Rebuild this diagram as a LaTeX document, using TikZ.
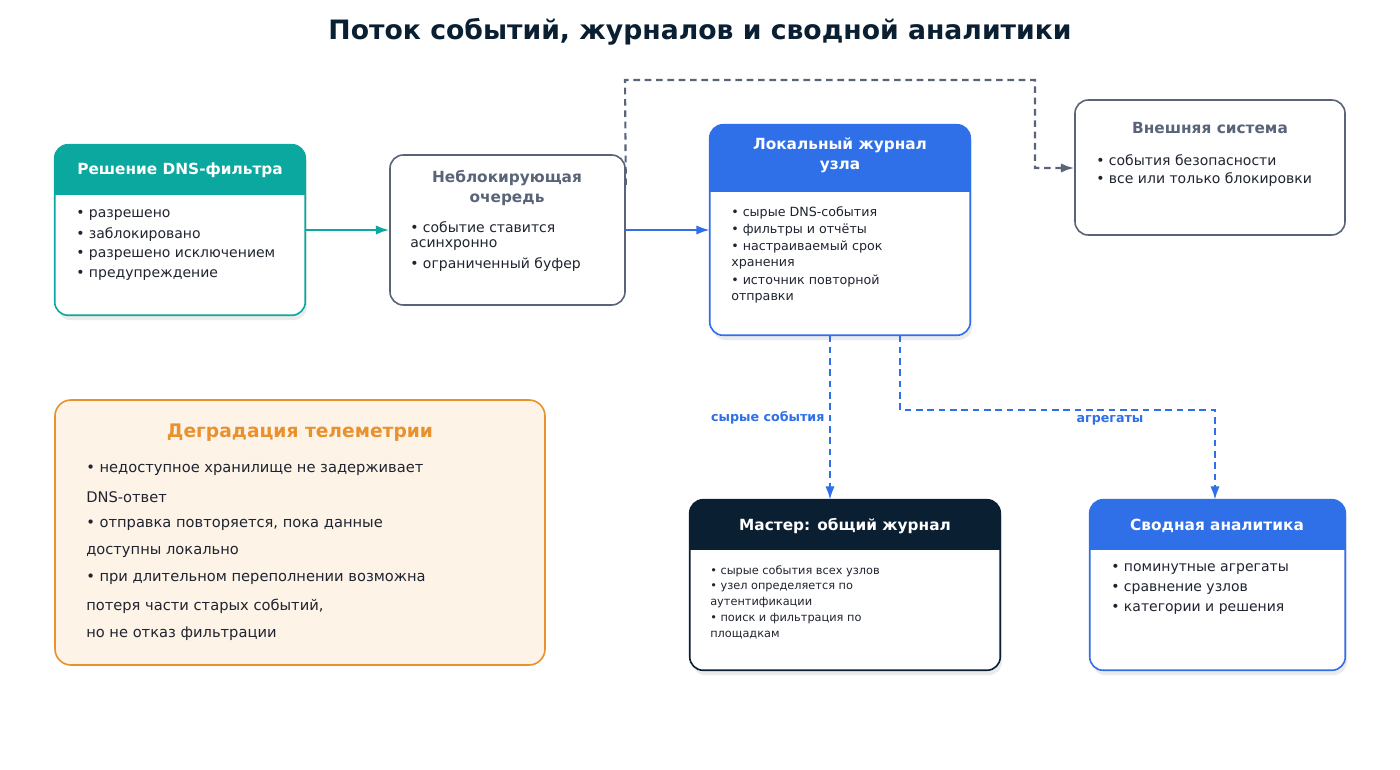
\documentclass[tikz,border=0pt]{standalone}
\usepackage{fontspec}
\setmainfont{DejaVu Sans}
\usetikzlibrary{fit,arrows.meta}
\definecolor{teal}{HTML}{0AA89E}
\definecolor{blu}{HTML}{2F6FE8}
\definecolor{gry}{HTML}{5A6478}
\definecolor{navy}{HTML}{0B1F33}
\definecolor{org}{HTML}{E8912D}
\definecolor{orgbg}{HTML}{FDF3E7}
\definecolor{txt}{HTML}{1F2430}
\begin{document}
\begin{tikzpicture}[x=0.75pt,y=-0.75pt,
  box/.style={inner sep=0pt,fit={#1}},
  it/.style={anchor=west,inner sep=0pt,text=txt,font=\fontsize{10.5}{12}\selectfont},
  its/.style={anchor=west,inner sep=0pt,text=txt,font=\fontsize{9.5}{11}\selectfont},
  itxs/.style={anchor=west,inner sep=0pt,text=txt,font=\fontsize{8.5}{10}\selectfont},
  hd/.style={text=white,font=\bfseries\fontsize{11.5}{15}\selectfont,align=center},
  arr/.style={line width=1.6pt,-{Latex[length=10pt,width=7pt]}},
  dsh/.style={arr,dash pattern=on 5pt off 3.5pt},
  lab/.style={font=\bfseries\fontsize{9.5}{11}\selectfont,text=blu}]
\useasboundingbox (0,0) rectangle (1400,770);
\fill[white] (0,0) rectangle (1400,770);
\node[font=\bfseries\fontsize{20}{24}\selectfont,text=navy] (title) at (700,32) {Поток событий, журналов и сводной аналитики};

% shadows
\foreach \a/\b/\c/\d in {55/145/305/315,710/125/970/335,690/500/1000/670,1090/500/1345/670}
  \fill[black,opacity=0.08,rounded corners=10pt] (\a+2,\b+5) rectangle (\c+2,\d+5);

% DNS box
\node[box={(55,145)(305,315)}] (dns) {};
\begin{scope}\clip[rounded corners=10pt] (dns.south west) rectangle (dns.north east);
\fill[white] (dns.south west) rectangle (dns.north east);
\fill[teal] (55,145) rectangle (305,195);\end{scope}
\draw[teal,line width=1.2pt,rounded corners=10pt] (dns.south west) rectangle (dns.north east);
\node[hd] (dnst) at (180,170) {Решение DNS-фильтра};
\node[it] (d1) at (76,215) {• разрешено};
\node[it] (d2) at (76,235) {• заблокировано};
\node[it] (d3) at (76,255) {• разрешено исключением};
\node[it] (d4) at (76,275) {• предупреждение};

% queue
\node[box={(390,155)(625,305)},draw=gry,line width=1.2pt,rounded corners=10pt,fill=white] (q) {};
\node[hd,text=gry] (qt) at (507,188) {Неблокирующая\\очередь};
\node[it] (q1) at (410,227) {• событие ставится};
\node[it] (q2) at (410,245) {асинхронно};
\node[it] (q3) at (410,265) {• ограниченный буфер};

% local log
\node[box={(710,125)(970,335)}] (loc) {};
\begin{scope}\clip[rounded corners=10pt] (loc.south west) rectangle (loc.north east);
\fill[white] (loc.south west) rectangle (loc.north east);
\fill[blu] (710,125) rectangle (970,192);\end{scope}
\draw[blu,line width=1.2pt,rounded corners=10pt] (loc.south west) rectangle (loc.north east);
\node[hd] (loct) at (840,155) {Локальный журнал\\узла};
\node[its] (l1) at (731,213) {• сырые DNS-события};
\node[its] (l2) at (731,230) {• фильтры и отчёты};
\node[its] (l3) at (731,247) {• настраиваемый срок};
\node[its] (l4) at (731,264) {хранения};
\node[its] (l5) at (731,281) {• источник повторной};
\node[its] (l6) at (731,298) {отправки};

% external
\node[box={(1075,100)(1345,235)},draw=gry,line width=1.2pt,rounded corners=10pt,fill=white] (ext) {};
\node[hd,text=gry] (extt) at (1210,128) {Внешняя система};
\node[it] (e1) at (1096,160) {• события безопасности};
\node[it] (e2) at (1096,180) {• все или только блокировки};

% degradation
\node[box={(55,400)(545,665)},draw=org,line width=1.2pt,rounded corners=12pt,fill=orgbg] (deg) {};
\node[font=\bfseries\fontsize{14}{16}\selectfont,text=org] (degt) at (300,433) {Деградация телеметрии};
\foreach \t [count=\i] in {{• недоступное хранилище не задерживает},{DNS-ответ},{• отправка повторяется, пока данные},{доступны локально},{• при длительном переполнении возможна},{потеря части старых событий,},{но не отказ фильтрации}}
  \node[it,font=\fontsize{11}{13}\selectfont] (g\i) at (86,443+27.2*\i) {\t};

% master
\node[box={(690,500)(1000,670)}] (mas) {};
\begin{scope}\clip[rounded corners=10pt] (mas.south west) rectangle (mas.north east);
\fill[white] (mas.south west) rectangle (mas.north east);
\fill[navy] (690,500) rectangle (1000,550);\end{scope}
\draw[navy,line width=1.2pt,rounded corners=10pt] (mas.south west) rectangle (mas.north east);
\node[hd] (mast) at (845,526) {Мастер: общий журнал};
\node[itxs] (m1) at (710,571) {• сырые события всех узлов};
\node[itxs] (m2) at (710,587) {• узел определяется по};
\node[itxs] (m3) at (710,603) {аутентификации};
\node[itxs] (m4) at (710,619) {• поиск и фильтрация по};
\node[itxs] (m5) at (710,635) {площадкам};

% summary
\node[box={(1090,500)(1345,670)}] (sum) {};
\begin{scope}\clip[rounded corners=10pt] (sum.south west) rectangle (sum.north east);
\fill[white] (sum.south west) rectangle (sum.north east);
\fill[blu] (1090,500) rectangle (1345,550);\end{scope}
\draw[blu,line width=1.2pt,rounded corners=10pt] (sum.south west) rectangle (sum.north east);
\node[hd] (sumt) at (1217,526) {Сводная аналитика};
\node[it] (s1) at (1111,569) {• поминутные агрегаты};
\node[it] (s2) at (1111,589) {• сравнение узлов};
\node[it] (s3) at (1111,609) {• категории и решения};

% connectors
\draw[arr,teal] (dns.east|-0,230) -- (q.west|-0,230);
\draw[arr,blu] (q.east|-0,230) -- (loc.west|-0,230);
\draw[dsh,gry] (q.east|-0,185) -- (625,80) -- (1035,80) -- (1035,168) -- (ext.west|-0,168);
\draw[dsh,blu] (loc.south-|830,0) -- (mas.north-|830,0) node[lab,pos=0.5,left=0pt] {сырые события};
\draw[dsh,blu] (loc.south-|900,0) -- (900,410) -- (1215,410) -- (sum.north-|1215,0);
\node[lab] (agg) at (1110,420) {агрегаты};
\end{tikzpicture}
\end{document}
